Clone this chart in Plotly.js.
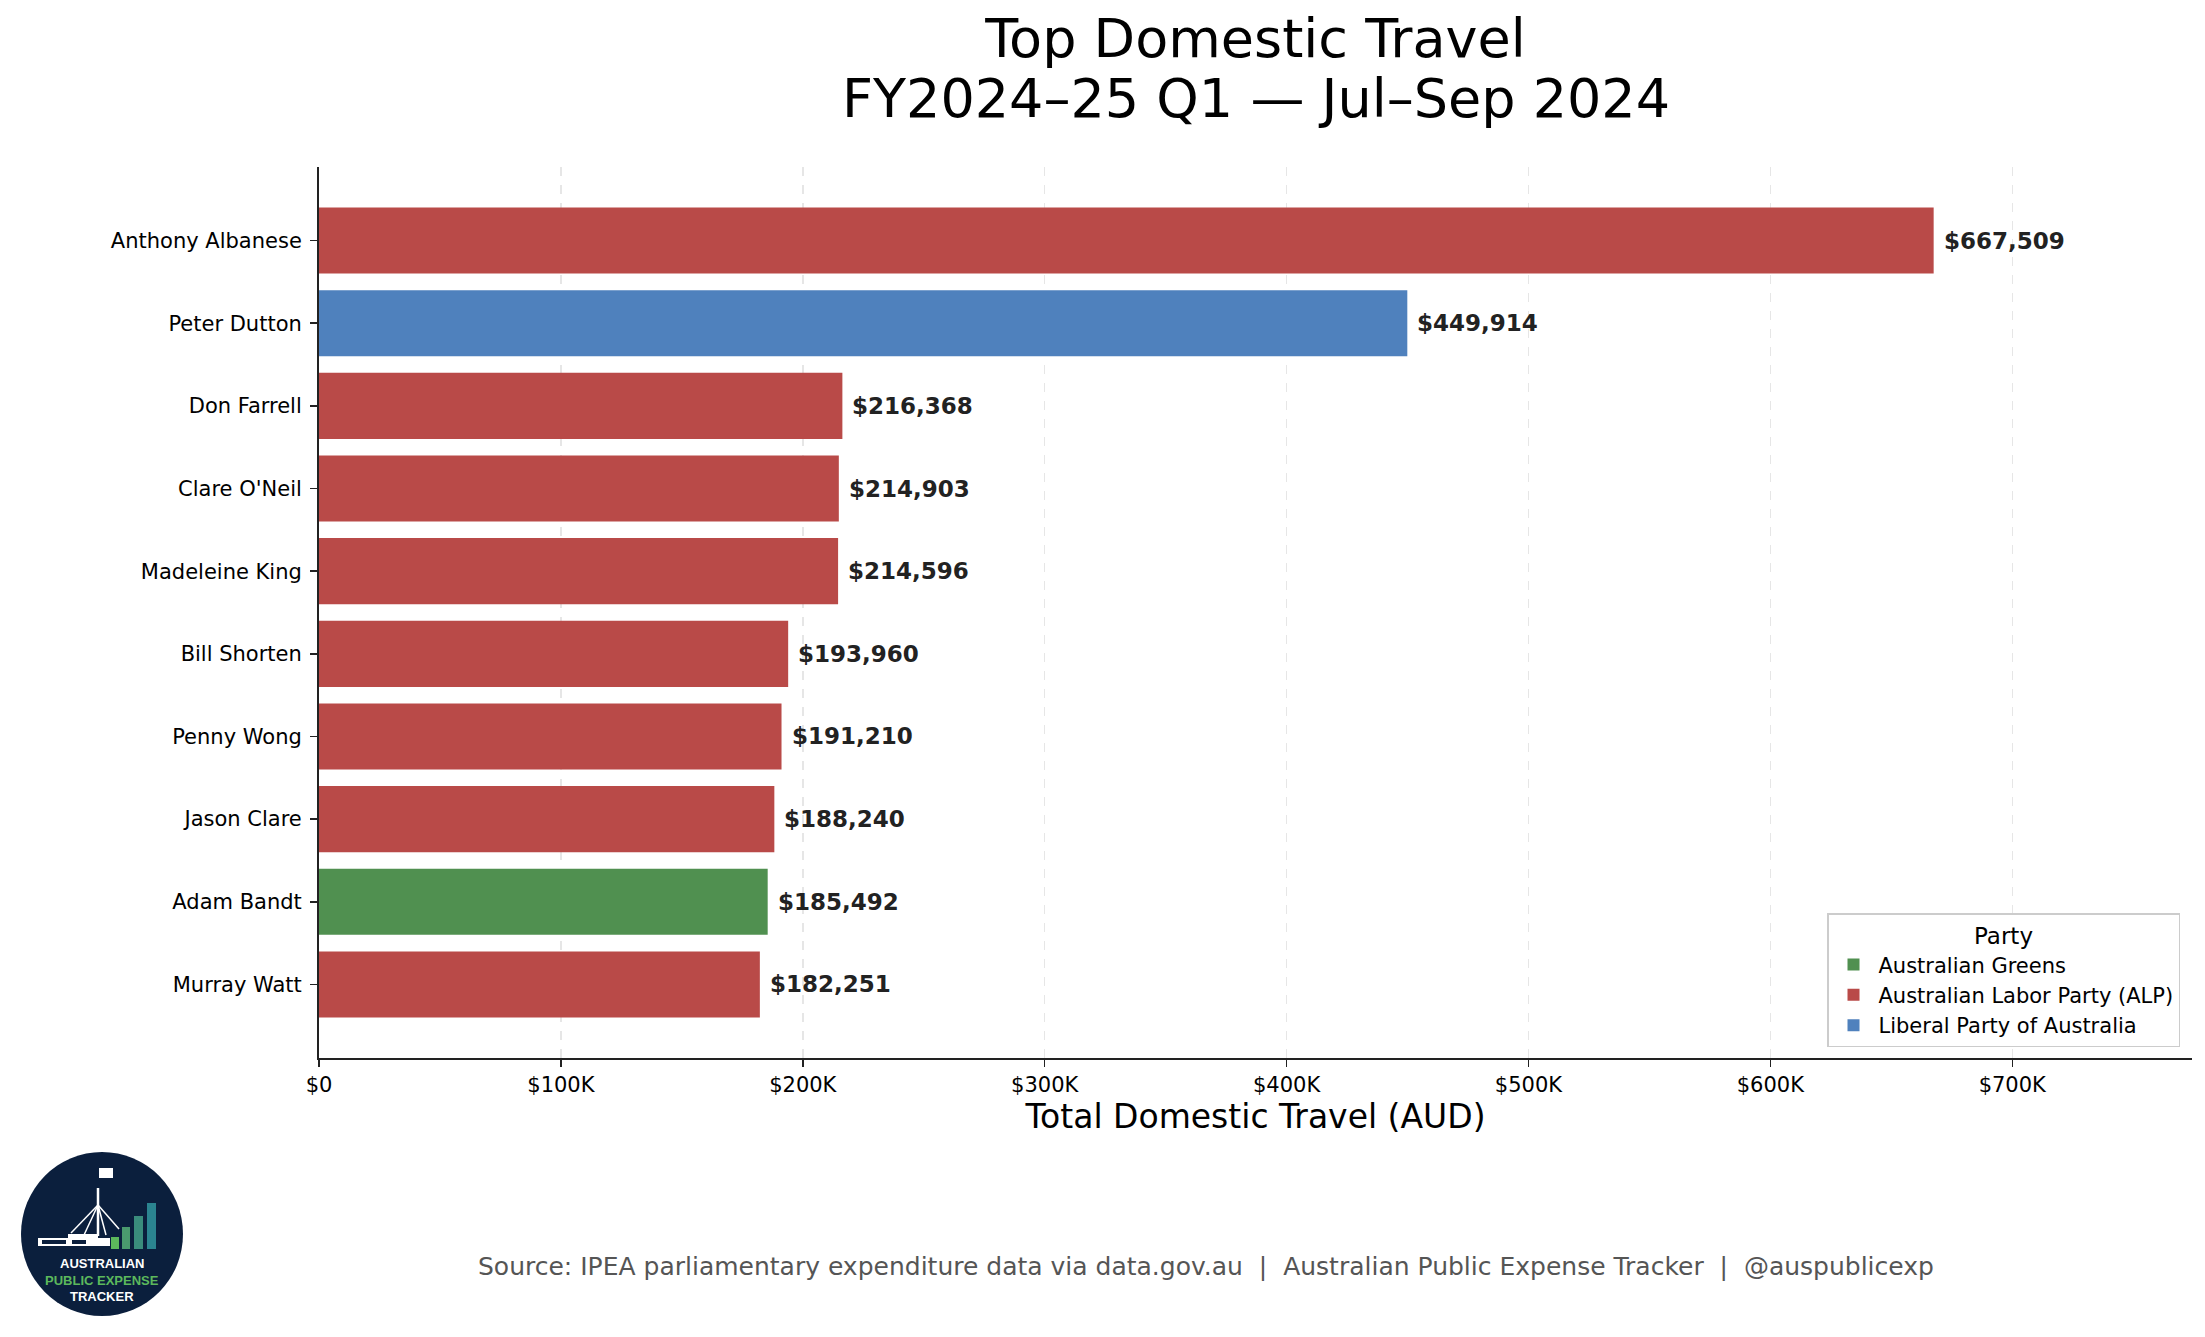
<!DOCTYPE html>
<html>
<head>
<meta charset="utf-8">
<script src="https://cdn.plot.ly/plotly-3.0.1.min.js"></script>
<style>
  html, body { margin: 0; padding: 0; background: #fff; }
  #chart { width: 2205px; height: 1337px; }
</style>
</head>
<body>
<div id="chart"></div>
<script>
// top 10 by domestic travel, Jul-Sep 2024
var names = ["Anthony Albanese", "Peter Dutton", "Don Farrell", "Clare O'Neil", "Madeleine King",
             "Bill Shorten", "Penny Wong", "Jason Clare", "Adam Bandt", "Murray Watt"];
var totals = [667509, 449914, 216368, 214903, 214596, 193960, 191210, 188240, 185492, 182251];
var parties = ["Australian Labor Party (ALP)", "Liberal Party of Australia", "Australian Labor Party (ALP)",
               "Australian Labor Party (ALP)", "Australian Labor Party (ALP)", "Australian Labor Party (ALP)",
               "Australian Labor Party (ALP)", "Australian Labor Party (ALP)", "Australian Greens",
               "Australian Labor Party (ALP)"];

var partyNames = ["Australian Greens", "Australian Labor Party (ALP)", "Liberal Party of Australia"];
var partyColors = ["#509050", "#b94a48", "#4f81bd"];

var tickVals = [0, 100000, 200000, 300000, 400000, 500000, 600000, 700000];
var tickText = ["$0", "$100K", "$200K", "$300K", "$400K", "$500K", "$600K", "$700K"];

var FONT = "DejaVu Sans, Verdana, sans-serif";

// plot area in page pixels, used for the logo / footer placement
var L = 319, R = 2192, T = 167, B = 1058;
function fx(x) { return (x - L) / (R - L); }
function fy(y) { return (B - y) / (B - T); }

var traces = partyNames.map(function (p, k) {
  var xs = [], ys = [];
  for (var i = 0; i < names.length; i++) {
    if (parties[i] === p) { xs.push(totals[i]); ys.push(names[i]); }
  }
  return {
    type: "bar", orientation: "h", name: p,
    x: xs, y: ys, width: 0.8,
    marker: { color: partyColors[k], line: { width: 0 } },
    hoverinfo: "skip"
  };
});

// value labels at the end of each bar
var annotations = names.map(function (n, i) {
  return {
    x: totals[i], y: n, xref: "x", yref: "y",
    text: "<b>$" + totals[i].toLocaleString("en-US") + "</b>",
    showarrow: false, xanchor: "left", yanchor: "middle", xshift: 8,
    font: { family: FONT, size: 23, color: "#222222" }
  };
});

// second title line (matplotlib spacing is tighter than plotly's <br>)
annotations.push({
  xref: "paper", yref: "paper", x: 0.5, y: fy(98),
  text: "FY2024\u201325 Q1 \u2014 Jul\u2013Sep 2024",
  showarrow: false, xanchor: "center", yanchor: "middle",
  font: { family: FONT, size: 54, color: "#000000" }
});

annotations.push({
  xref: "paper", yref: "paper", x: fx(1206), y: fy(1266),
  text: "Source: IPEA parliamentary expenditure data via data.gov.au \u00a0|\u00a0 Australian Public Expense Tracker \u00a0|\u00a0 @auspublicexp",
  showarrow: false, xanchor: "center", yanchor: "middle",
  font: { family: FONT, size: 25, color: "#555555" }
});

// logo text
var logoLines = [["AUSTRALIAN", "#ffffff", 1263], ["PUBLIC EXPENSE", "#5cb85c", 1280], ["TRACKER", "#ffffff", 1296]];
logoLines.forEach(function (l) {
  annotations.push({
    xref: "paper", yref: "paper", x: fx(102), y: fy(l[2]),
    text: "<b>" + l[0] + "</b>", showarrow: false, xanchor: "center", yanchor: "middle",
    font: { family: "Liberation Sans, Arial, sans-serif", size: 13, color: l[1] }
  });
});

function rect(x0, y0, x1, y1, fill) {
  return { type: "rect", xref: "paper", yref: "paper", x0: fx(x0), x1: fx(x1), y0: fy(y1), y1: fy(y0),
           fillcolor: fill, line: { width: 0 }, layer: "above" };
}
function seg(x0, y0, x1, y1, w) {
  return { type: "line", xref: "paper", yref: "paper", x0: fx(x0), x1: fx(x1), y0: fy(y0), y1: fy(y1),
           line: { color: "#ffffff", width: w || 1.5 }, layer: "above" };
}

var shapes = [
  { type: "circle", xref: "paper", yref: "paper", x0: fx(21), x1: fx(183), y0: fy(1316), y1: fy(1152),
    fillcolor: "#0b1f3d", line: { width: 0 }, layer: "above" },
  // parliament house
  rect(38, 1238, 110, 1246, "#ffffff"),
  rect(68, 1234, 98, 1238, "#ffffff"),
  rect(42, 1240, 66, 1244, "#0b1f3d"),
  rect(72, 1240, 86, 1244, "#0b1f3d"),
  seg(98, 1188, 98, 1236, 2.5),
  seg(98, 1205, 71, 1233), seg(98, 1205, 84, 1235), seg(98, 1205, 106, 1235), seg(98, 1205, 119, 1229),
  rect(99, 1168, 113, 1178, "#ffffff"),
  // little bar chart
  rect(111, 1237, 119, 1249, "#5cb85c"),
  rect(122, 1227, 130, 1249, "#4a9a6e"),
  rect(134, 1216, 143, 1249, "#3a8c7c"),
  rect(147, 1203, 156, 1249, "#2b8490")
];

var layout = {
  width: 2205, height: 1337,
  margin: { l: L, r: 2205 - R, t: T, b: 1337 - B, pad: 0 },
  paper_bgcolor: "#ffffff", plot_bgcolor: "#ffffff",
  font: { family: FONT, color: "#000000" },
  barmode: "overlay",
  showlegend: true,
  title: {
    text: "Top Domestic Travel",
    font: { family: FONT, size: 54, color: "#000000" },
    x: 0.5, xref: "paper", xanchor: "center",
    y: 1 - 38 / 1337, yref: "container", yanchor: "middle"
  },
  xaxis: {
    range: [0, Math.max.apply(null, totals) * 1.16],
    tickvals: tickVals, ticktext: tickText,
    tickfont: { family: FONT, size: 21, color: "#000000" },
    ticks: "outside", ticklen: 7, tickwidth: 1.5, tickcolor: "#222222",
    showline: true, linecolor: "#222222", linewidth: 2,
    showgrid: true, gridcolor: "#e6e6e6", gridwidth: 1.5, griddash: "dash",
    zeroline: false,
    title: { text: "Total Domestic Travel (AUD)", font: { family: FONT, size: 33, color: "#000000" }, standoff: 6 }
  },
  yaxis: {
    type: "category", categoryorder: "array", categoryarray: names,
    range: [names.length - 1 + 0.89, -0.89],
    tickfont: { family: FONT, size: 21, color: "#000000" },
    ticks: "outside", ticklen: 7, tickwidth: 1.5, tickcolor: "#222222",
    ticklabelstandoff: 4,
    showline: true, linecolor: "#222222", linewidth: 2,
    showgrid: false, zeroline: false
  },
  legend: {
    x: fx(2180), y: fy(1047), xanchor: "right", yanchor: "bottom",
    bgcolor: "#ffffff", bordercolor: "#cccccc", borderwidth: 1.5,
    font: { family: FONT, size: 21, color: "#000000" },
    title: { text: "Party", side: "top center", font: { family: FONT, size: 23, color: "#000000" } },
    traceorder: "normal", itemwidth: 40
  },
  annotations: annotations,
  shapes: shapes
};

Plotly.newPlot("chart", traces, layout, { displayModeBar: false, staticPlot: true });
</script>
</body>
</html>
